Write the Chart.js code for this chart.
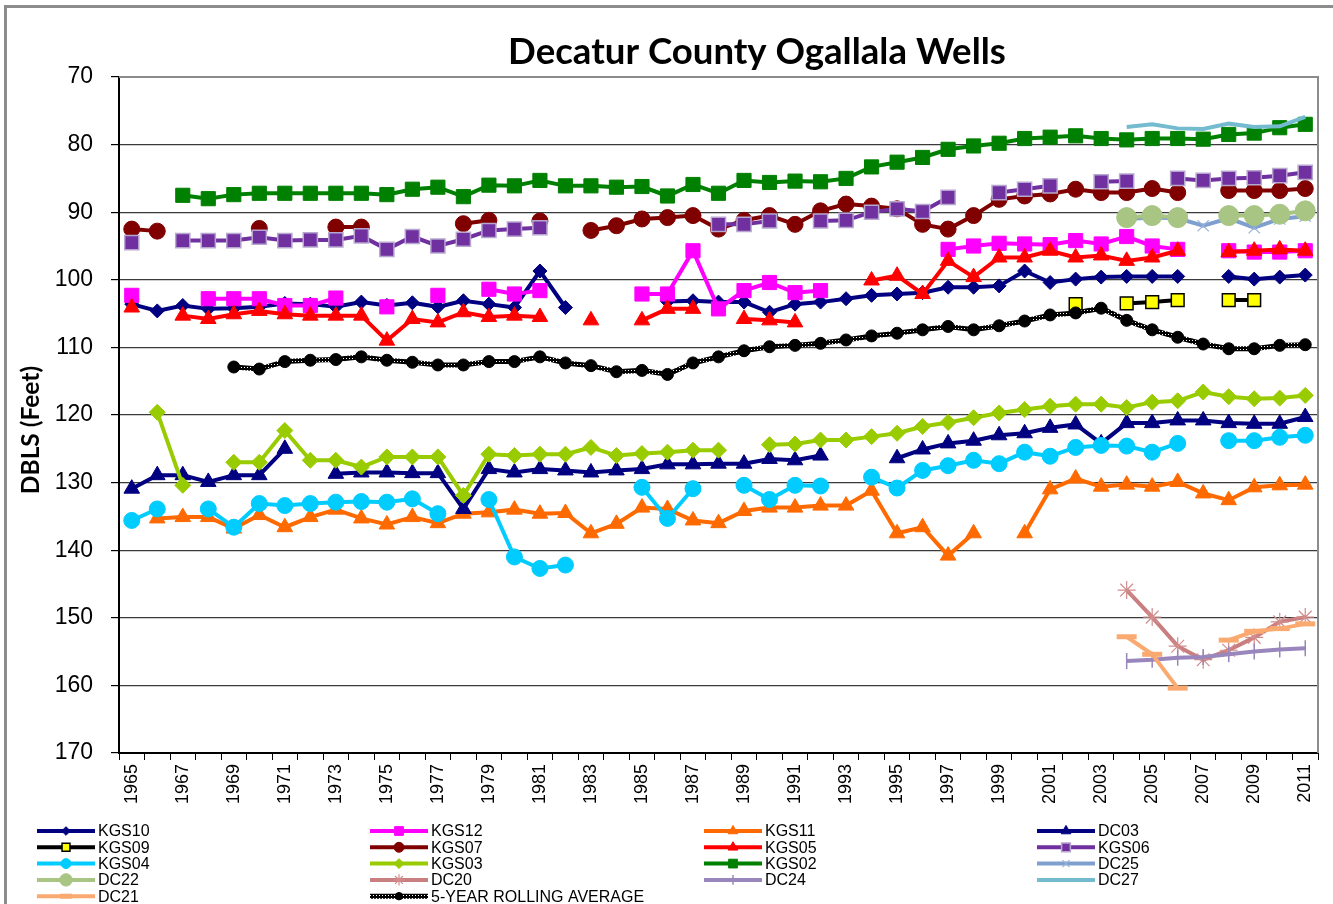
<!DOCTYPE html>
<html>
<head>
<meta charset="utf-8">
<title>Decatur County Ogallala Wells</title>
<script src="https://cdn.jsdelivr.net/npm/chart.js@4.4.1/dist/chart.umd.min.js"></script>
<style>
  html, body { margin: 0; padding: 0; background: #fff; }
  #wells { display: block; }
</style>
</head>
<body>
<canvas id="wells" width="1333" height="904"></canvas>
<script>
// water level depth below land surface (feet), one value per year, null = no reading
var years = [
  '1965','1966','1967','1968','1969','1970','1971','1972','1973','1974',
  '1975','1976','1977','1978','1979','1980','1981','1982','1983','1984',
  '1985','1986','1987','1988','1989','1990','1991','1992','1993','1994',
  '1995','1996','1997','1998','1999','2000','2001','2002','2003','2004',
  '2005','2006','2007','2008','2009','2010','2011'
];
var depthTicks = [70, 80, 90, 100, 110, 120, 130, 140, 150, 160, 170];

var kgs10 = [
  103.6, 104.6, 103.8, 104.3, 104.2, 104.0, 103.5, 103.6, 104.0, 103.3,
  103.8, 103.4, 104.0, 103.1, 103.6, 104.1, 98.7, 104.1, null, null,
  null, 103.2, 103.1, 103.3, 103.3, 104.8, 103.6, 103.3, 102.8, 102.3,
  102.1, 101.9, 101.1, 101.1, 100.9, 98.7, 100.4, 99.9, 99.6, 99.5,
  99.5, 99.5, null, 99.5, 99.9, 99.6, 99.3
];
var kgs12 = [
  102.3, null, null, 102.8, 102.8, 102.8, 103.8, 103.8, 102.7, null,
  104.0, null, 102.3, null, 101.4, 102.1, 101.6, null, null, null,
  102.1, 102.1, 95.7, 104.3, 101.6, 100.4, 101.9, 101.6, null, null,
  null, null, 95.5, 95.0, 94.6, 94.7, 94.8, 94.2, 94.7, 93.6,
  95.0, 95.5, null, 95.7, 95.9, 95.9, 95.7
];
var kgs11 = [
  null, 135.3, 135.1, 135.1, 136.8, 134.8, 136.6, 135.1, 134.0, 135.3,
  136.2, 135.1, 136.0, 134.6, 134.4, 134.0, 134.6, 134.5, 137.5, 136.1,
  133.7, 133.9, 135.6, 136.0, 134.2, 133.7, 133.7, 133.4, 133.4, 131.2,
  137.5, 136.6, 140.8, 137.5, null, 137.5, 131.0, 129.4, 130.6, 130.3,
  130.6, 129.9, 131.6, 132.6, 130.7, 130.4, 130.3
];
var dc03 = [
  130.9, 128.9, 128.9, 129.9, 128.9, 128.9, 125.0, null, 128.7, 128.5,
  128.5, 128.6, 128.6, 133.9, 128.0, 128.5, 128.0, 128.2, 128.5, 128.2,
  128.0, 127.3, 127.3, 127.2, 127.2, 126.5, 126.7, 126.0, null, null,
  126.4, 125.1, 124.2, 123.8, 123.0, 122.7, 121.9, 121.4, 124.2, 121.2,
  121.2, 120.8, 120.8, 121.2, 121.3, 121.3, 120.3
];
var kgs09 = fromYear(2002, [103.6, null, 103.5, 103.3, 103.0, null, 103.0, 103.0]);
var kgs07 = [
  92.5, 92.8, null, null, null, 92.4, null, null, 92.2, 92.2,
  null, null, null, 91.7, 91.2, null, 91.3, null, 92.7, 92.0,
  91.0, 90.8, 90.5, 92.5, 91.2, 90.5, 91.8, 89.8, 88.8, 89.1,
  89.5, 91.8, 92.5, 90.5, 88.1, 87.6, 87.3, 86.6, 87.1, 87.1,
  86.5, 87.1, null, 86.8, 86.8, 86.8, 86.5
];
var kgs05 = [
  104.1, null, 105.3, 105.8, 105.1, 104.6, 105.1, 105.3, 105.3, 105.3,
  109.0, 105.8, 106.3, 104.8, 105.5, 105.3, 105.5, null, 106.0, null,
  106.0, 104.3, 104.3, null, 105.8, 106.0, 106.3, null, null, 100.1,
  99.4, 102.1, 97.2, 99.6, 96.7, 96.7, 95.7, 96.7, 96.4, 97.2,
  96.7, 95.7, null, 95.9, 95.7, 95.5, 95.7
];
var kgs06 = [
  94.5, null, 94.2, 94.2, 94.2, 93.7, 94.2, 94.1, 94.1, 93.5,
  95.5, 93.6, 95.0, 94.0, 92.7, 92.5, 92.3, null, null, null,
  null, null, null, 91.8, 91.8, 91.3, null, 91.3, 91.2, 90.0,
  89.5, 89.9, 87.8, null, 87.1, 86.6, 86.1, null, 85.5, 85.4,
  null, 85.0, 85.3, 85.0, 84.9, 84.6, 84.1
];
var kgs04 = [
  135.6, 133.9, null, 133.9, 136.6, 133.1, 133.4, 133.1, 132.9, 132.8,
  132.9, 132.4, 134.6, null, 132.5, 141.0, 142.7, 142.2, null, null,
  130.7, 135.3, 130.9, null, 130.4, 132.5, 130.4, 130.5, null, 129.2,
  130.8, 128.2, 127.5, 126.7, 127.2, 125.5, 126.1, 124.8, 124.5, 124.6,
  125.5, 124.2, null, 123.8, 123.8, 123.3, 123.0
];
var kgs03 = [
  null, 119.6, 130.4, null, 127.0, 127.0, 122.3, 126.7, 126.7, 127.7,
  126.2, 126.2, 126.2, 131.9, 125.8, 126.0, 125.8, 125.8, 124.8, 126.0,
  125.7, 125.5, 125.2, 125.2, null, 124.4, 124.3, 123.7, 123.7, 123.2,
  122.7, 121.7, 121.1, 120.4, 119.7, 119.2, 118.7, 118.4, 118.4, 118.9,
  118.1, 117.9, 116.6, 117.3, 117.6, 117.5, 117.1
];
var kgs02 = fromYear(1967, [
  87.5, 88.0, 87.4, 87.2, 87.2, 87.2, 87.2, 87.2, 87.4, 86.6,
  86.3, 87.7, 86.0, 86.1, 85.3, 86.1, 86.1, 86.3, 86.2, 87.6,
  85.9, 87.2, 85.3, 85.6, 85.4, 85.5, 85.0, 83.3, 82.6, 81.9,
  80.7, 80.2, 79.8, 79.1, 78.9, 78.7, 79.1, 79.3, 79.1, 79.1,
  79.2, 78.5, 78.3, 77.5, 77.0
]);
var dc25 = fromYear(2004, [91.0, 90.8, 90.9, 92.0, 90.9, 92.3, 91.0, 90.6]);
var dc22 = fromYear(2004, [90.8, 90.5, 90.8, null, 90.5, 90.5, 90.3, 89.8]);
var dc20 = fromYear(2004, [145.9, 149.9, 154.2, 156.2, 154.8, 152.9, 150.6, 149.9]);
var dc24 = fromYear(2004, [156.4, 156.2, 155.9, 155.8, 155.4, 155.0, 154.7, 154.5]);
var dc27 = fromYear(2004, [77.4, 77.0, 77.6, 77.7, 76.9, 77.4, 77.3, 75.9]);
var dc21 = fromYear(2004, [152.8, 155.4, 160.4, null, 153.3, 152.0, 151.6, 150.9]);
var rolling5 = fromYear(1969, [
  112.9, 113.2, 112.1, 111.9, 111.8, 111.4, 111.9, 112.2, 112.6, 112.6,
  112.1, 112.1, 111.4, 112.3, 112.7, 113.6, 113.4, 114.0, 112.3, 111.4,
  110.5, 109.9, 109.7, 109.4, 108.9, 108.3, 107.9, 107.4, 106.9, 107.4,
  106.8, 106.1, 105.2, 104.9, 104.2, 106.0, 107.4, 108.5, 109.5, 110.2,
  110.2, 109.7, 109.6
]);

// put a short record in its place on the full year list
function fromYear(start, vals) {
  var out = [];
  for (var i = 0; i < 47; i++) out.push(null);
  var at = start - 1965;
  for (var j = 0; j < vals.length; j++) out[at + j] = vals[j];
  return out;
}

// dotted black texture for the rolling average line
var dots = document.createElement('canvas');
dots.width = 3; dots.height = 3;
var dctx = dots.getContext('2d');
dctx.fillStyle = '#000'; dctx.fillRect(0, 0, 3, 3);
dctx.fillStyle = '#fff'; dctx.fillRect(1, 1, 1, 1);
var canvas = document.getElementById('wells');
var ctx = canvas.getContext('2d');
var dotted = ctx.createPattern(dots, 'repeat');

var series = [
  { label: 'KGS10', data: kgs10, line: '#000080', fill: '#000080', edge: '#000080', shape: 'rectRot', r: 7 },
  { label: 'KGS12', data: kgs12, line: '#ff00ff', fill: '#ff00ff', edge: '#ff00ff', shape: 'rect', r: 10 },
  { label: 'KGS11', data: kgs11, line: '#ff6a00', fill: '#ff6a00', edge: '#ff6a00', shape: 'triangle', r: 9 },
  { label: 'DC03', data: dc03, line: '#000080', fill: '#000080', edge: '#000080', shape: 'triangle', r: 9 },
  { label: 'KGS09', data: kgs09, line: '#000000', fill: '#ffff00', edge: '#000000', shape: 'rect', r: 9, bw: 1.5 },
  { label: 'KGS07', data: kgs07, line: '#800000', fill: '#800000', edge: '#800000', shape: 'circle', r: 8 },
  { label: 'KGS05', data: kgs05, line: '#ff0000', fill: '#ff0000', edge: '#ff0000', shape: 'triangle', r: 9 },
  { label: 'KGS06', data: kgs06, line: '#7030a0', fill: '#7030a0', edge: '#b7a6cf', shape: 'rect', r: 10, bw: 1.5 },
  { label: 'KGS04', data: kgs04, line: '#00ccff', fill: '#00ccff', edge: '#00ccff', shape: 'circle', r: 8 },
  { label: 'KGS03', data: kgs03, line: '#99cc00', fill: '#99cc00', edge: '#99cc00', shape: 'rectRot', r: 8 },
  { label: 'KGS02', data: kgs02, line: '#008000', fill: '#008000', edge: '#008000', shape: 'rect', r: 10 },
  { label: 'DC25', data: dc25, line: '#7f9fcf', fill: '#95b3d7', edge: '#95b3d7', shape: 'crossRot', r: 8, bw: 1.2 },
  { label: 'DC22', data: dc22, line: '#a8c584', fill: '#a8c584', edge: '#a8c584', shape: 'circle', r: 10 },
  { label: 'DC20', data: dc20, line: '#c97f7f', fill: '#c97f7f', edge: '#d28c8c', shape: 'star', r: 9, bw: 1.2 },
  { label: 'DC24', data: dc24, line: '#9886bc', fill: '#9886bc', edge: '#9886bc', shape: 'line', r: 8, bw: 1.5, rot: 90 },
  { label: 'DC27', data: dc27, line: '#74bbd0', fill: '#74bbd0', edge: '#74bbd0', shape: 'circle', r: 0 },
  { label: 'DC21', data: dc21, line: '#faaa70', fill: '#faaa70', edge: '#faaa70', shape: 'line', r: 10, bw: 5 },
  { label: '5-YEAR ROLLING AVERAGE', data: rolling5, line: dotted, fill: '#000', edge: '#000', shape: 'circle', r: 6, w: 5 }
];

var datasets = series.map(function(s, i) {
  return {
    label: s.label,
    data: s.data,
    borderColor: s.line,
    borderWidth: s.w || 4,
    backgroundColor: s.fill,
    pointStyle: s.shape,
    pointRadius: s.r,
    pointRotation: s.rot || 0,
    pointBackgroundColor: s.fill,
    pointBorderColor: s.edge,
    pointBorderWidth: s.bw || 1,
    spanGaps: false,
    tension: 0,
    order: series.length - i
  };
});

// text drawn at a size that makes it span the given width
function fitFont(c, text, weight, family, target) {
  c.font = weight + ' 30px ' + family;
  var size = 30 * target / c.measureText(text).width;
  c.font = weight + ' ' + size.toFixed(1) + 'px ' + family;
}

// frame, titles and the four column legend, Excel style
var decorations = {
  id: 'decorations',
  beforeDraw: function(chart) {
    var c = chart.ctx;
    c.save();
    c.fillStyle = '#fff';
    c.fillRect(0, 0, chart.width, chart.height);
    c.strokeStyle = '#8c8c8c';
    c.lineWidth = 3;
    c.strokeRect(5.5, 6.5, chart.width + 20, chart.height + 20);
    c.restore();
  },
  beforeDatasetsDraw: function(chart) {
    var a = chart.chartArea, c = chart.ctx;
    c.save();
    c.strokeStyle = '#8c8c8c';
    c.lineWidth = 2;
    c.beginPath();
    c.moveTo(a.left, a.top);
    c.lineTo(a.right, a.top);
    c.lineTo(a.right, a.bottom);
    c.stroke();
    c.restore();
  },
  afterDraw: function(chart) {
    var c = chart.ctx;
    c.save();
    c.fillStyle = '#000';
    c.textAlign = 'center';
    c.textBaseline = 'middle';

    // chart title
    fitFont(c, 'Decatur County Ogallala Wells', 'bold', 'Lato', 498);
    c.fillText('Decatur County Ogallala Wells', 757, 52);

    // value axis title
    c.save();
    c.translate(31, 430);
    c.rotate(-Math.PI / 2);
    fitFont(c, 'DBLS (Feet)', 'bold', 'Lato', 128);
    c.fillText('DBLS (Feet)', 0, 0);
    c.restore();

    // legend
    var cols = [37, 370, 704, 1037];
    c.textAlign = 'left';
    c.font = '16px "Liberation Sans"';
    chart.data.datasets.forEach(function(ds, i) {
      var x0 = cols[i % 4];
      var y0 = 831 + Math.floor(i / 4) * 16.3;
      c.strokeStyle = ds.borderColor;
      c.lineWidth = ds.borderWidth;
      c.beginPath();
      c.moveTo(x0, y0);
      c.lineTo(x0 + 58, y0);
      c.stroke();
      if (ds.pointRadius > 0) {
        c.fillStyle = ds.pointBackgroundColor;
        c.strokeStyle = ds.pointBorderColor;
        c.lineWidth = ds.pointBorderWidth;
        var opts = {
          pointStyle: ds.pointStyle,
          rotation: ds.pointRotation,
          radius: ds.pointRadius * 0.62,
          borderWidth: ds.pointBorderWidth
        };
        if (Chart.helpers && Chart.helpers.drawPoint) {
          Chart.helpers.drawPoint(c, opts, x0 + 29, y0);
        } else {
          c.beginPath();
          c.arc(x0 + 29, y0, opts.radius, 0, Math.PI * 2);
          c.fill();
        }
      }
      c.fillStyle = '#000';
      c.fillText(ds.label, x0 + 61, y0 + 1);
    });
    c.restore();
  }
};

new Chart(ctx, {
  type: 'line',
  data: { labels: years, datasets: datasets },
  plugins: [decorations],
  options: {
    responsive: false,
    animation: false,
    devicePixelRatio: 1,
    events: [],
    layout: { padding: { top: 77, right: 8, bottom: 0, left: 0 } },
    plugins: {
      legend: { display: false },
      title: { display: false },
      tooltip: { enabled: false }
    },
    scales: {
      x: {
        type: 'category',
        offset: true,
        grid: { display: true, drawOnChartArea: false, drawTicks: true, tickLength: 7, tickColor: '#000', offset: true },
        border: { display: true, color: '#000', width: 2 },
        ticks: {
          autoSkip: false,
          maxRotation: 90,
          minRotation: 90,
          padding: 4,
          color: '#000',
          font: { family: '"Liberation Sans"', size: 18 },
          callback: function(value, index) {
            return index % 2 === 0 ? years[index] : '';
          }
        },
        afterFit: function(scale) { scale.height = 151; }
      },
      y: {
        reverse: true,
        min: depthTicks[0],
        max: depthTicks[depthTicks.length - 1],
        afterBuildTicks: function(scale) {
          scale.ticks = depthTicks.map(function(v) { return { value: v }; });
        },
        grid: { color: '#3a3a3a', lineWidth: 1.2, tickLength: 8, tickColor: '#000' },
        border: { display: true, color: '#000', width: 2 },
        ticks: { padding: 18, color: '#000', font: { family: '"Liberation Sans"', size: 23 } },
        title: { display: false },
        afterFit: function(scale) { scale.width = 119; }
      }
    }
  }
});
</script>
</body>
</html>
